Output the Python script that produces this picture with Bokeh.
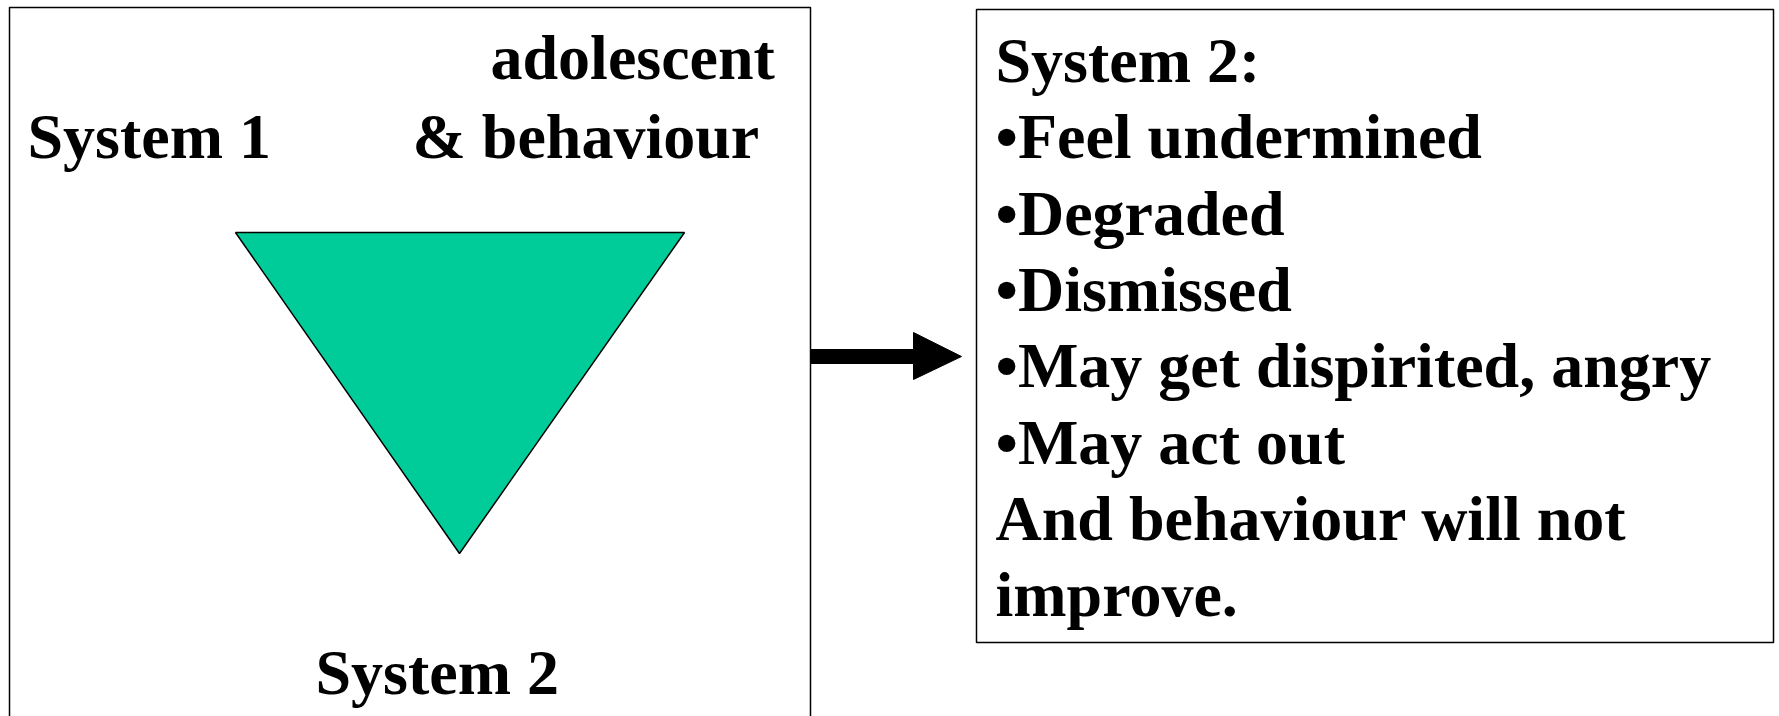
from bokeh.plotting import figure
from bokeh.models import Range1d, ColumnDataSource
from bokeh.core.properties import value
from bokeh.embed import file_html
from bokeh.resources import INLINE

# ---- content ----
left_labels = ["adolescent", "System 1", "& behaviour", "System 2"]
right_lines = [
    "System 2:",
    "\u2022Feel undermined",
    "\u2022Degraded",
    "\u2022Dismissed",
    "\u2022May get dispirited, angry",
    "\u2022May act out",
    "And behaviour will not",
    "improve.",
]
triangle_color = "#00CC99"

# ---- layout (page pixel coordinates) ----
W, H = 1779, 716
p = figure(width=W, height=H, output_backend="svg", toolbar_location=None,
           x_range=Range1d(0, W), y_range=Range1d(H, 0),
           min_border=0, min_border_left=0, min_border_right=0,
           min_border_top=0, min_border_bottom=0)
p.axis.visible = False
p.grid.visible = False
p.outline_line_color = None
p.background_fill_color = "white"
p.border_fill_color = "white"

# boxes
p.quad(left=[9, 976], right=[810, 1773], top=[7, 9], bottom=[740, 642],
       fill_color=None, line_color="black", line_width=1.5)

# triangle
p.patch(x=[235, 684, 459], y=[232, 232, 553], fill_color=triangle_color,
        line_color="black", line_width=1.5)

# arrow
p.patch(x=[810, 913, 913, 961, 913, 913, 810],
        y=[349, 349, 332, 356, 379, 363, 363],
        fill_color="black", line_color="black", line_width=1)

font = value("Liberation Serif")
dy = -21  # renderer baseline correction
left_src = ColumnDataSource(dict(x=[490, 27, 412, 315],
                                 y=[v + dy for v in [78, 157, 157, 693]],
                                 text=left_labels))
p.text(x="x", y="y", text="text", source=left_src, text_font=font,
       text_font_style="bold", text_font_size="64px", text_color="black",
       text_align="left", text_baseline="alphabetic")

right_src = ColumnDataSource(dict(x=[995] * len(right_lines),
                                  y=[81 + dy + 76.3 * i for i in range(len(right_lines))],
                                  text=right_lines))
p.text(x="x", y="y", text="text", source=right_src, text_font=font,
       text_font_style="bold", text_font_size="64px", text_color="black",
       text_align="left", text_baseline="alphabetic")

open("out.html", "w").write(file_html(p, INLINE))
